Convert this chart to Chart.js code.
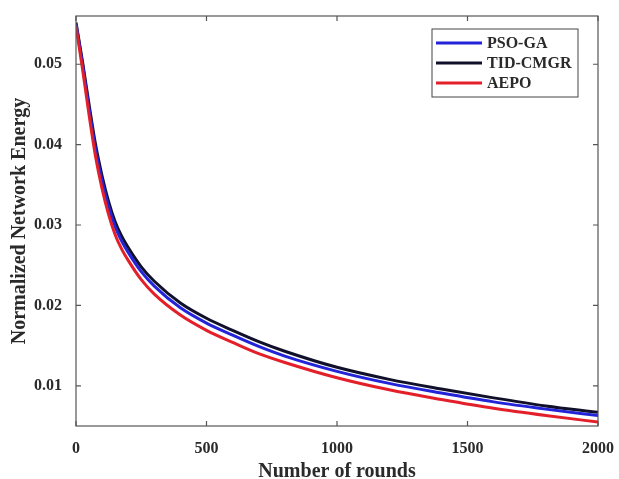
<!DOCTYPE html>
<html>
<head>
<meta charset="utf-8">
<script src="https://cdn.jsdelivr.net/npm/chart.js@4.4.0/dist/chart.umd.min.js"></script>
<style>
  html, body { margin: 0; padding: 0; background: #fff; }
  #wrap { width: 619px; height: 479px; }
</style>
</head>
<body>
<div id="wrap"><canvas id="energyChart"></canvas></div>
<script>
var rounds = [0, 25, 50, 75, 100, 125, 150, 175, 200, 250, 300, 400, 500, 600, 700, 800, 1000, 1200, 1400, 1600, 1800, 2000]

var psoGa = [0.0550, 0.0500, 0.0445, 0.0394, 0.0355, 0.0323, 0.0298, 0.0280, 0.0266, 0.0242, 0.0224, 0.0197, 0.0178, 0.0163, 0.0149, 0.0137, 0.0118, 0.0103, 0.0091, 0.0080, 0.0071, 0.0063]
var tidCmgr = [0.0552, 0.0503, 0.0450, 0.0400, 0.0361, 0.0329, 0.0304, 0.0286, 0.0272, 0.0248, 0.0230, 0.0203, 0.0184, 0.0169, 0.0155, 0.0143, 0.0123, 0.0108, 0.0096, 0.0085, 0.0075, 0.0067]
var aepo = [0.0547, 0.0494, 0.0437, 0.0385, 0.0345, 0.0313, 0.0288, 0.0270, 0.0256, 0.0232, 0.0214, 0.0188, 0.0169, 0.0154, 0.0140, 0.0129, 0.0110, 0.0095, 0.0083, 0.0072, 0.0063, 0.0055]

var seriesNames = ['PSO-GA', 'TID-CMGR', 'AEPO']
var seriesColors = ['#2323d8', '#10102a', '#e3202a']

var xTicks = [0, 500, 1000, 1500, 2000]
var yTicks = [0.01, 0.02, 0.03, 0.04, 0.05]

function toPoints(vals) {
    return rounds.map(function (r, i) { return { x: r, y: vals[i] } })
}

var fontFam = '"Liberation Serif", "DejaVu Serif", serif'
var textCol = '#2a2a2a'

// box around the plot, inward tick marks on all sides, legend inside
var matlabFrame = {
    id: 'matlabFrame',
    afterDraw: function (chart) {
        var ctx = chart.ctx
        var a = chart.chartArea
        var xs = chart.scales.x
        var ys = chart.scales.y
        ctx.save()
        ctx.strokeStyle = '#555'
        ctx.lineWidth = 1.2
        ctx.strokeRect(a.left, a.top, a.right - a.left, a.bottom - a.top)
        ctx.beginPath()
        xTicks.forEach(function (v) {
            var px = xs.getPixelForValue(v)
            ctx.moveTo(px, a.bottom); ctx.lineTo(px, a.bottom - 5)
            ctx.moveTo(px, a.top); ctx.lineTo(px, a.top + 5)
        })
        yTicks.forEach(function (v) {
            var py = ys.getPixelForValue(v)
            ctx.moveTo(a.left, py); ctx.lineTo(a.left + 5, py)
            ctx.moveTo(a.right, py); ctx.lineTo(a.right - 5, py)
        })
        ctx.stroke()

        // legend
        var lx = 432, ly = 29, lw = 146, lh = 68
        ctx.fillStyle = '#fff'
        ctx.fillRect(lx, ly, lw, lh)
        ctx.strokeStyle = '#444'
        ctx.lineWidth = 1
        ctx.strokeRect(lx, ly, lw, lh)
        ctx.font = 'bold 16px ' + fontFam
        ctx.textBaseline = 'middle'
        chart.data.datasets.forEach(function (ds, i) {
            var yy = ly + 14 + i * 20
            ctx.strokeStyle = ds.borderColor
            ctx.lineWidth = 3
            ctx.beginPath()
            ctx.moveTo(lx + 4, yy); ctx.lineTo(lx + 50, yy)
            ctx.stroke()
            ctx.fillStyle = textCol
            ctx.fillText(ds.label, lx + 55, yy + 1)
        })
        ctx.restore()
    }
}

var ctx = document.getElementById('energyChart').getContext('2d')

var energyChart = new Chart(ctx, {
    type: 'line',
    data: {
        datasets: [
            { label: seriesNames[0], data: toPoints(psoGa), borderColor: seriesColors[0], order: 1 },
            { label: seriesNames[1], data: toPoints(tidCmgr), borderColor: seriesColors[1], order: 2 },
            { label: seriesNames[2], data: toPoints(aepo), borderColor: seriesColors[2], order: 0 }
        ]
    },
    options: {
        responsive: true,
        maintainAspectRatio: false,
        animation: false,
        layout: { padding: { top: 16, right: 19, left: 8, bottom: 0 } },
        elements: {
            point: { radius: 0 },
            line: { borderWidth: 3, cubicInterpolationMode: 'monotone', fill: false }
        },
        plugins: {
            legend: { display: false },
            tooltip: { enabled: false }
        },
        scales: {
            x: {
                type: 'linear',
                min: 0,
                max: 2000,
                grid: { display: false },
                border: { display: false },
                afterBuildTicks: function (scale) {
                    scale.ticks = xTicks.map(function (v) { return { value: v } })
                },
                afterFit: function (scale) { scale.height = 53 },
                ticks: {
                    color: textCol,
                    padding: 5,
                    maxRotation: 0,
                    font: { family: fontFam, size: 16, weight: 'bold' },
                    callback: function (v) { return String(v) }
                },
                title: {
                    display: true,
                    text: 'Number of rounds',
                    color: textCol,
                    padding: { top: 0, bottom: -5 },
                    font: { family: fontFam, size: 20, weight: 'bold' }
                }
            },
            y: {
                min: 0.005,
                max: 0.056,
                grid: { display: false },
                border: { display: false },
                afterBuildTicks: function (scale) {
                    scale.ticks = yTicks.map(function (v) { return { value: v } })
                },
                afterFit: function (scale) { scale.width = 68 },
                ticks: {
                    color: textCol,
                    padding: 6,
                    font: { family: fontFam, size: 16, weight: 'bold' },
                    callback: function (v) { return v.toFixed(2) }
                },
                title: {
                    display: true,
                    text: 'Normalized Network Energy',
                    color: textCol,
                    padding: { top: 0, bottom: 0 },
                    font: { family: fontFam, size: 20, weight: 'bold' }
                }
            }
        }
    },
    plugins: [matlabFrame]
})
</script>
</body>
</html>
